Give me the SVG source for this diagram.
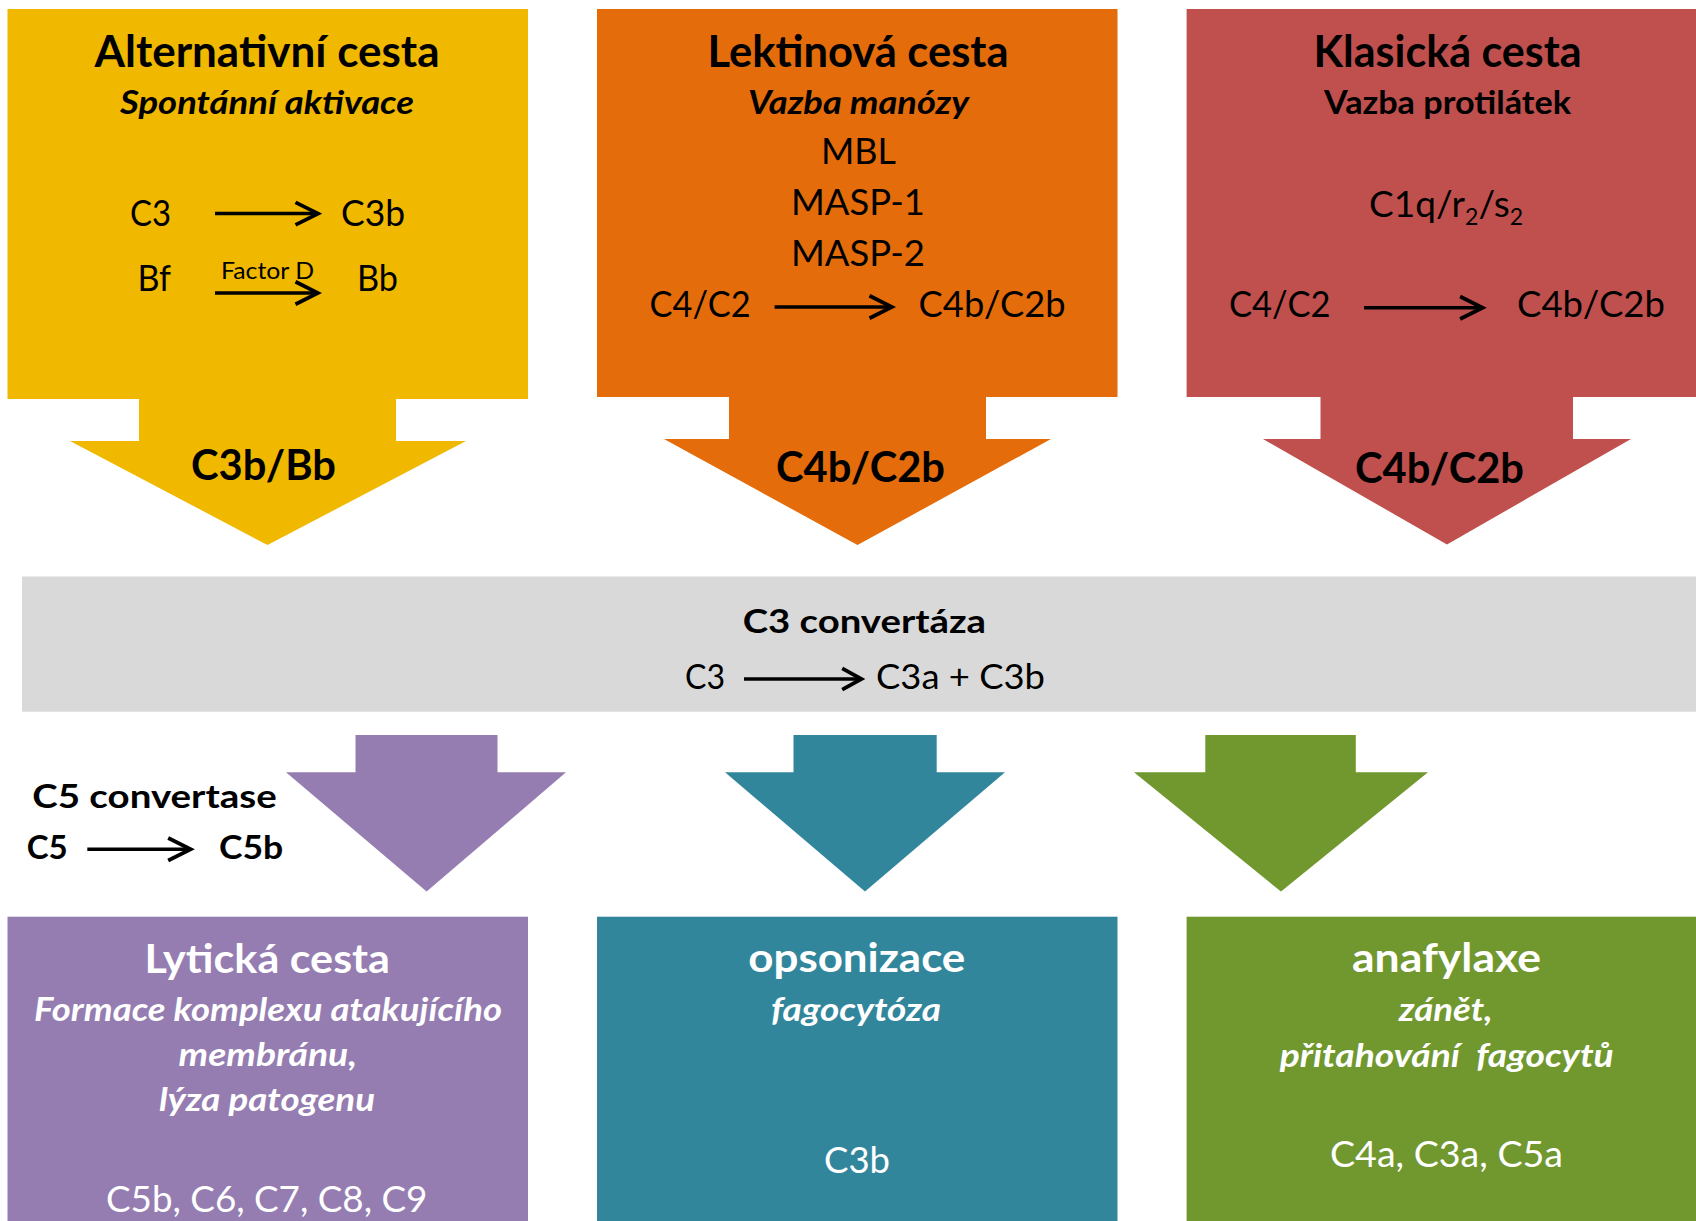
<svg xmlns="http://www.w3.org/2000/svg" width="1696" height="1221" viewBox="0 0 1696 1221">
<style>
text{font-family:Lato,"Open Sans","Liberation Sans",sans-serif;fill:#000}
.t{font-size:43px;font-weight:700}
.s{font-size:33px;font-weight:700;font-style:italic}
.sb{font-size:33px;font-weight:700}
.r{font-size:37px}
.lb{font-size:42px;font-weight:700}
.w{fill:#fff}
.rx{stroke:#000;stroke-width:3.5;fill:none}
</style>
<defs>
<marker id="chev" markerUnits="userSpaceOnUse" markerWidth="30" markerHeight="30" viewBox="-24 -13 28 26" refX="0" refY="0" orient="auto">
<path d="M-21,-10.5 L0,0 L-21,10.5" fill="none" stroke="#000" stroke-width="3.5"/>
</marker>
<marker id="chevs" markerUnits="userSpaceOnUse" markerWidth="30" markerHeight="30" viewBox="-24 -13 28 26" refX="0" refY="0" orient="auto">
<path d="M-18,-10 L0,0 L-18,10" fill="none" stroke="#000" stroke-width="3.5"/>
</marker>
</defs>
<rect width="1696" height="1221" fill="#fff"/>

<g id="alternativni">
<polygon fill="#F1B800" points="7.5,9 528,9 528,399 396,399 396,441 466,441 267.5,545 70,441 139,441 139,399 7.5,399"/>
<text class="t" x="267" y="67" text-anchor="middle" textLength="345" lengthAdjust="spacingAndGlyphs">Alternativní cesta</text>
<text class="s" x="267" y="114" text-anchor="middle" textLength="294" lengthAdjust="spacingAndGlyphs">Spontánní aktivace</text>
<text class="r" x="130" y="226" textLength="41" lengthAdjust="spacingAndGlyphs">C3</text>
<text class="r" x="341" y="226" textLength="64" lengthAdjust="spacingAndGlyphs">C3b</text>
<line class="rx" x1="215" y1="213.6" x2="318" y2="213.6" marker-end="url(#chev)"/>
<text class="r" x="137.5" y="291" textLength="33.5" lengthAdjust="spacingAndGlyphs">Bf</text>
<text class="r" x="357" y="291" textLength="41" lengthAdjust="spacingAndGlyphs">Bb</text>
<text x="221" y="279" style="font-size:23px" textLength="93" lengthAdjust="spacingAndGlyphs">Factor D</text>
<line class="rx" x1="215" y1="293" x2="318" y2="293" marker-end="url(#chev)"/>
<text class="lb" x="191" y="480" textLength="145" lengthAdjust="spacingAndGlyphs">C3b/Bb</text>
</g>

<g id="lektinova">
<polygon fill="#E46C0A" points="597,9 1117.5,9 1117.5,397 986,397 986,439 1051,439 857.5,545 664,439 729,439 729,397 597,397"/>
<text class="t" x="858" y="67" text-anchor="middle" textLength="301" lengthAdjust="spacingAndGlyphs">Lektinová cesta</text>
<text class="s" x="858.5" y="114" text-anchor="middle" textLength="221" lengthAdjust="spacingAndGlyphs">Vazba manózy</text>
<text class="r" x="858.5" y="164" text-anchor="middle" textLength="75" lengthAdjust="spacingAndGlyphs">MBL</text>
<text class="r" x="858" y="215" text-anchor="middle" textLength="134" lengthAdjust="spacingAndGlyphs">MASP-1</text>
<text class="r" x="858" y="266" text-anchor="middle" textLength="134" lengthAdjust="spacingAndGlyphs">MASP-2</text>
<text class="r" x="649.6" y="317" textLength="101" lengthAdjust="spacingAndGlyphs">C4/C2</text>
<line class="rx" x1="774.6" y1="307" x2="892" y2="307" marker-end="url(#chev)"/>
<text class="r" x="918.6" y="317" textLength="147" lengthAdjust="spacingAndGlyphs">C4b/C2b</text>
<text class="lb" x="776" y="482" textLength="169" lengthAdjust="spacingAndGlyphs">C4b/C2b</text>
</g>

<g id="klasicka">
<polygon fill="#C0504D" points="1186.6,9 1700,9 1700,397 1573,397 1573,439 1631,439 1447,544.5 1263,439 1320.5,439 1320.5,397 1186.6,397"/>
<text class="t" x="1447.6" y="67" text-anchor="middle" textLength="268" lengthAdjust="spacingAndGlyphs">Klasická cesta</text>
<text class="sb" x="1447.5" y="114" text-anchor="middle" textLength="247" lengthAdjust="spacingAndGlyphs">Vazba protilátek</text>
<text class="r" x="1369" y="216.5">C1q/r<tspan dy="8" style="font-size:23px">2</tspan><tspan dy="-8">/s</tspan><tspan dy="8" style="font-size:23px">2</tspan></text>
<text class="r" x="1229" y="317" textLength="101.5" lengthAdjust="spacingAndGlyphs">C4/C2</text>
<line class="rx" x1="1364" y1="307.7" x2="1482.6" y2="307.7" marker-end="url(#chev)"/>
<text class="r" x="1517" y="317" textLength="148" lengthAdjust="spacingAndGlyphs">C4b/C2b</text>
<text class="lb" x="1355" y="482.6" textLength="169" lengthAdjust="spacingAndGlyphs">C4b/C2b</text>
</g>

<g id="c3-convertaza">
<rect x="22" y="576.5" width="1680" height="135.2" fill="#D9D9D9"/>
<text class="sb" x="742.7" y="633" textLength="243.3" lengthAdjust="spacingAndGlyphs">C3 convertáza</text>
<text x="685" y="689.3" style="font-size:34px" textLength="40" lengthAdjust="spacingAndGlyphs">C3</text>
<line class="rx" x1="744" y1="679" x2="861.5" y2="679" marker-end="url(#chevs)"/>
<text x="876" y="689.3" style="font-size:34px" textLength="169" lengthAdjust="spacingAndGlyphs">C3a + C3b</text>
</g>

<g id="c5-convertase">
<text class="sb" x="32.3" y="808.3" textLength="244.4" lengthAdjust="spacingAndGlyphs">C5 convertase</text>
<text class="sb" x="26.7" y="859.3" textLength="41" lengthAdjust="spacingAndGlyphs">C5</text>
<line class="rx" x1="87.3" y1="849.3" x2="190.7" y2="849.3" marker-end="url(#chev)"/>
<text class="sb" x="219" y="859.3" textLength="64.3" lengthAdjust="spacingAndGlyphs">C5b</text>
</g>

<g id="connectors">
<polygon fill="#957DB1" points="355.5,735 497.5,735 497.5,772.3 566,772.3 426.6,891.6 286,772.3 355.5,772.3"/>
<polygon fill="#32869C" points="793.5,735 936.7,735 936.7,772.3 1005,772.3 865,891.6 725,772.3 793.5,772.3"/>
<polygon fill="#71972F" points="1205.3,735 1355.8,735 1355.8,772.3 1428,772.3 1281,891.6 1134,772.3 1205.3,772.3"/>
</g>

<g id="lyticka">
<rect x="7.5" y="916.7" width="520.5" height="310" fill="#957DB1"/>
<text class="w" x="267.3" y="973.3" text-anchor="middle" style="font-size:40px;font-weight:700" textLength="245.4" lengthAdjust="spacingAndGlyphs">Lytická cesta</text>
<text class="w s" x="268" y="1020.5" text-anchor="middle" style="font-size:32px" textLength="468" lengthAdjust="spacingAndGlyphs">Formace komplexu atakujícího</text>
<text class="w s" x="267.8" y="1066" text-anchor="middle" style="font-size:32px" textLength="178.5" lengthAdjust="spacingAndGlyphs">membránu,</text>
<text class="w s" x="267" y="1110.5" text-anchor="middle" style="font-size:32px" textLength="216" lengthAdjust="spacingAndGlyphs">lýza patogenu</text>
<text class="w" x="266.7" y="1211.7" text-anchor="middle" style="font-size:36px" textLength="321.5" lengthAdjust="spacingAndGlyphs">C5b, C6, C7, C8, C9</text>
</g>

<g id="opsonizace">
<rect x="597" y="916.7" width="520.5" height="310" fill="#32869C"/>
<text class="w" x="856.8" y="972" text-anchor="middle" style="font-size:40px;font-weight:700" textLength="217" lengthAdjust="spacingAndGlyphs">opsonizace</text>
<text class="w s" x="856" y="1021" text-anchor="middle" style="font-size:32px" textLength="170" lengthAdjust="spacingAndGlyphs">fagocytóza</text>
<text class="w" x="857" y="1173" text-anchor="middle" style="font-size:36px" textLength="66" lengthAdjust="spacingAndGlyphs">C3b</text>
</g>

<g id="anafylaxe">
<rect x="1186.6" y="916.7" width="515" height="310" fill="#71972F"/>
<text class="w" x="1446.5" y="972" text-anchor="middle" style="font-size:40px;font-weight:700" textLength="189" lengthAdjust="spacingAndGlyphs">anafylaxe</text>
<text class="w s" x="1445.7" y="1021" text-anchor="middle" style="font-size:32px" textLength="94" lengthAdjust="spacingAndGlyphs">zánět,</text>
<text class="w s" x="1446.7" y="1066.5" text-anchor="middle" style="font-size:32px;white-space:pre" textLength="334" lengthAdjust="spacingAndGlyphs">přitahování  fagocytů</text>
<text class="w" x="1446.5" y="1167" text-anchor="middle" style="font-size:36px" textLength="233" lengthAdjust="spacingAndGlyphs">C4a, C3a, C5a</text>
</g>
</svg>
